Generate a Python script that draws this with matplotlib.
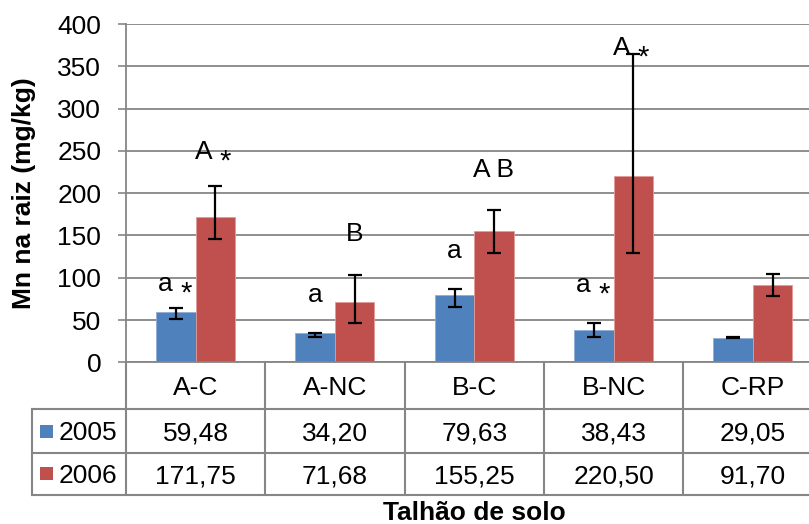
import matplotlib
matplotlib.use('Agg')
import matplotlib.pyplot as plt
from matplotlib.transforms import blended_transform_factory, offset_copy
from matplotlib.patches import Rectangle
from matplotlib.lines import Line2D
import numpy as np

# ---------------- data ----------------
categories = ['A-C', 'A-NC', 'B-C', 'B-NC', 'C-RP']
series_names = ['2005', '2006']
values_2005 = [59.48, 34.20, 79.63, 38.43, 29.05]
values_2006 = [171.75, 71.68, 155.25, 220.50, 91.70]
table_2005 = ['59,48', '34,20', '79,63', '38,43', '29,05']
table_2006 = ['171,75', '71,68', '155,25', '220,50', '91,70']
whisker_low_2005 = [51.2, 29.9, 65.1, 29.6, 28.3]
whisker_high_2005 = [63.9, 34.6, 86.4, 46.9, 29.6]
whisker_low_2006 = [145.5, 46.9, 129.0, 129.0, 78.5]
whisker_high_2006 = [208.6, 103.3, 180.2, 364.9, 104.5]
letters_2005 = ['a', 'a', 'a', 'a', '']
letters_2006 = ['A', 'B', 'A B', 'A', '']
star_2005 = [True, False, False, True, False]
star_2006 = [True, False, False, True, False]
letter_y_2005 = [84, 71.7, 123, 83.6, None]
letter_y_2006 = [240, 143.9, 219.6, 363.7, None]
yticks = [0, 50, 100, 150, 200, 250, 300, 350, 400]
ylabel = 'Mn na raiz (mg/kg)'
xlabel = 'Talhão de solo'

# ---------------- style ----------------
plt.rcParams['font.family'] = ['Liberation Sans', 'DejaVu Sans']
BLUE = '#4F81BD'
RED = '#C0504D'
GRID = '#868686'
FS = 19

W, H = 809, 524
fig = plt.figure(figsize=(W / 100, H / 100), dpi=100)

def fx(px):
    return px / W

def fy(py):
    return 1 - py / H

ax_left, ax_right, ax_top, ax_bottom = 126, 822.5, 24, 362.3
ax = fig.add_axes([fx(ax_left), fy(ax_bottom), fx(ax_right - ax_left), (ax_bottom - ax_top) / H])

n = len(categories)
x = np.arange(n)
bw = 0.2835

v05 = np.array(values_2005)
v06 = np.array(values_2006)
ax.bar(x - bw / 2, v05, bw, color=BLUE, edgecolor='#8EACD6', linewidth=0.6, zorder=2)
ax.bar(x + bw / 2, v06, bw, color=RED, edgecolor='#E39A98', linewidth=0.6, zorder=2)

err05 = [v05 - np.array(whisker_low_2005), np.array(whisker_high_2005) - v05]
err06 = [v06 - np.array(whisker_low_2006), np.array(whisker_high_2006) - v06]
ax.errorbar(x - bw / 2, v05, yerr=err05, fmt='none', ecolor='black',
            elinewidth=1.6, capsize=4.8, capthick=1.6, zorder=3)
ax.errorbar(x + bw / 2, v06, yerr=err06, fmt='none', ecolor='black',
            elinewidth=1.6, capsize=4.8, capthick=1.6, zorder=3)

PT = 72 / 100  # points per pixel at dpi 100

def put_label(xc, y, letters, star):
    if not letters:
        return
    if star:
        ax.text(xc, y, letters, ha='right', va='baseline', fontsize=FS, zorder=4,
                transform=offset_copy(ax.transData, fig=fig, x=-3 * PT, y=0, units='points'))
        ax.text(xc, y, '*', ha='left', va='baseline', fontsize=21, zorder=4,
                transform=offset_copy(ax.transData, fig=fig, x=4.5 * PT, y=-10.5 * PT, units='points'))
    else:
        ax.text(xc, y, letters, ha='center', va='baseline', fontsize=FS, zorder=4)

for i in range(n):
    put_label(x[i] - bw / 2, letter_y_2005[i], letters_2005[i], star_2005[i])
    put_label(x[i] + bw / 2, letter_y_2006[i], letters_2006[i], star_2006[i])

ax.set_xlim(-0.5, n - 0.5)
ax.set_ylim(0, 400)
ax.set_yticks(yticks)
ax.set_yticklabels([str(t) for t in yticks], fontsize=FS)
ax.tick_params(axis='y', direction='out', length=5.8, width=1.2, color=GRID, pad=12)
ax.set_xticks([])
ax.yaxis.grid(True, color=GRID, linewidth=1.3)
ax.set_axisbelow(True)
for s in ['top', 'right']:
    ax.spines[s].set_visible(False)
for s in ['left', 'bottom']:
    ax.spines[s].set_color(GRID)
    ax.spines[s].set_linewidth(1.3)

ax.set_ylabel(ylabel, fontsize=FS, fontweight='bold')
ax.yaxis.set_label_coords((36 - ax_left) / (ax_right - ax_left), 0.5)

# ---------------- data table ----------------
tr = blended_transform_factory(ax.transData, fig.transFigure)
cat_w_px = (ax_right - ax_left) / n
legend_left = -0.5 - (ax_left - 31.7) / cat_w_px
row_lines = [362.3, 409.3, 452.7, 495.0]
lw_t = 1.5
for k, ry in enumerate(row_lines):
    if k == 0:
        continue
    fig.add_artist(Line2D([legend_left, n - 0.5], [fy(ry), fy(ry)], transform=tr,
                          color=GRID, linewidth=lw_t, clip_on=False))
fig.add_artist(Line2D([legend_left, legend_left], [fy(row_lines[1]), fy(row_lines[3])],
                      transform=tr, color=GRID, linewidth=lw_t))
for b in np.arange(n + 1) - 0.5:
    fig.add_artist(Line2D([b, b], [fy(row_lines[0]), fy(row_lines[3])], transform=tr,
                          color=GRID, linewidth=lw_t))

hdr_y = fy((row_lines[0] + row_lines[1]) / 2)
r1_y = fy((row_lines[1] + row_lines[2]) / 2)
r2_y = fy((row_lines[2] + row_lines[3]) / 2)
for i in range(n):
    fig.text(x[i], hdr_y, categories[i], transform=tr, ha='center', va='center_baseline', fontsize=FS)
    fig.text(x[i], r1_y, table_2005[i], transform=tr, ha='center', va='center_baseline', fontsize=FS)
    fig.text(x[i], r2_y, table_2006[i], transform=tr, ha='center', va='center_baseline', fontsize=FS)

sq = 13
for ry, col, name in [(r1_y, BLUE, series_names[0]), (r2_y, RED, series_names[1])]:
    fig.add_artist(Rectangle((fx(40), ry - sq / 2 / H), sq / W, sq / H, transform=fig.transFigure,
                             facecolor=col, edgecolor='none'))
    fig.text(fx(59), ry, name, ha='left', va='center_baseline', fontsize=FS)

fig.text(x.mean(), fy(520), xlabel, transform=tr, ha='center', va='baseline',
         fontsize=FS, fontweight='bold')

fig.savefig('out.png', dpi=100)
